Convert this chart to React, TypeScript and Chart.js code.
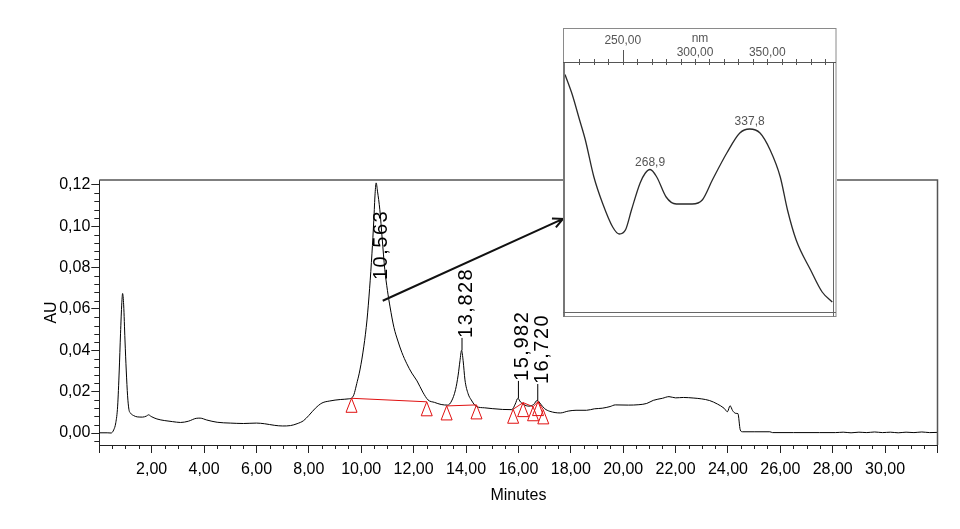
import React, { useEffect, useRef } from 'react';
import { Chart, registerables } from 'chart.js';

Chart.register(...registerables);

// ---- Chromatogram (main chart) ----
const traceTimes = [
  0, 0.3, 0.45, 0.55, 0.63, 0.7, 0.76, 0.81, 0.86, 0.89, 0.93, 0.98, 1.03, 1.08, 1.13, 1.2, 1.3, 1.45, 1.65, 1.8,
  1.88, 1.98, 2.2, 2.5, 2.8, 3.1, 3.4, 3.7, 3.85, 4.1, 4.5, 5.0, 5.5, 6.0, 6.3, 6.7, 7.0, 7.3, 7.55, 7.8,
  8.0, 8.25, 8.5, 8.8, 9.2, 9.5, 9.68, 9.85, 9.95, 10.1, 10.22, 10.32, 10.41, 10.48, 10.53, 10.57, 10.62, 10.71, 10.8, 10.9,
  11.0, 11.1, 11.25, 11.4, 11.55, 11.74, 11.93, 12.13, 12.35, 12.55, 12.8, 13.05, 13.3, 13.45, 13.6, 13.7, 13.77, 13.83, 13.89, 13.96,
  14.08, 14.2, 14.4, 14.7, 15.0, 15.4, 15.75, 15.88, 15.98, 16.08, 16.2, 16.4, 16.58, 16.72, 16.85, 17.0, 17.2, 17.6, 17.9, 18.2,
  18.6, 18.9, 19.2, 19.5, 19.7, 20.2, 20.6, 20.9, 21.15, 21.5, 21.75, 22.0, 22.3, 22.7, 23.0, 23.3, 23.6, 23.85, 23.98, 24.08,
  24.18, 24.3, 24.38, 24.47, 24.55, 25.0, 25.6, 25.7, 26.5, 27.5, 28.1, 28.4, 28.7, 29.0, 29.3, 29.6, 29.9, 30.2, 30.5, 30.8,
  31.1, 31.4, 31.7, 32.0,
];
const traceAU = [
  0.0001, 0.0001, 0.0, 0.0015, 0.005, 0.013, 0.03, 0.048, 0.063, 0.0675, 0.062, 0.045, 0.03, 0.018, 0.0115, 0.0095, 0.0085, 0.0078, 0.0077, 0.0082,
  0.0088, 0.008, 0.0068, 0.006, 0.0055, 0.0051, 0.0057, 0.0071, 0.0072, 0.0063, 0.0052, 0.0048, 0.0046, 0.0048, 0.0045, 0.0037, 0.0034, 0.0036, 0.0045, 0.006,
  0.0085, 0.012, 0.0145, 0.0155, 0.0162, 0.0165, 0.0175, 0.025, 0.0305, 0.042, 0.0547, 0.07, 0.087, 0.103, 0.116, 0.121, 0.117, 0.108, 0.094, 0.079,
  0.069, 0.061, 0.051, 0.0445, 0.039, 0.0335, 0.029, 0.0252, 0.0198, 0.016, 0.0148, 0.0138, 0.0135, 0.0155, 0.021, 0.028, 0.035, 0.04, 0.035, 0.0257,
  0.019, 0.016, 0.0128, 0.0122, 0.0118, 0.0114, 0.0113, 0.014, 0.0168, 0.015, 0.0138, 0.013, 0.0138, 0.0158, 0.014, 0.0118, 0.0105, 0.0097, 0.0106, 0.011,
  0.011, 0.0117, 0.012, 0.0128, 0.0136, 0.0135, 0.0137, 0.0143, 0.0158, 0.0168, 0.0176, 0.017, 0.0172, 0.0169, 0.0165, 0.0157, 0.014, 0.012, 0.0103, 0.0132,
  0.0108, 0.0095, 0.0094, 0.0015, 0.0006, 0.0006, 0.0006, 0.0002, 0.0002, 0.0002, 0.0002, 0.0004, 0.0001, 0.0004, 0.0002, 0.0005, 0.0002, 0.0004, 0.0001, 0.0004,
  0.0002, 0.0005, 0.0002, 0.0003,
];

const peakTimes = [10.563, 13.828, 15.982, 16.72];
const peakLabels = ['10,563', '13,828', '15,982', '16,720'];
const peakTopAU = [0.121, 0.04, 0.0168, 0.0158];
const labelStartAU = [0.074, 0.046, 0.0252, 0.0237];

const markerTimes = [9.63, 12.5, 13.26, 14.4, 15.8, 16.18, 16.56, 16.75, 16.95];
const markerAU = [0.0168, 0.0151, 0.0131, 0.0136, 0.0115, 0.0147, 0.0127, 0.0152, 0.0112];
const baselinePairs = [[0, 1], [2, 3], [4, 5], [5, 6], [6, 7], [7, 8]];

const arrowFrom = [10.82, 0.064];
const arrowTo = [17.7, 0.1036];

const xMin = 0, xMax = 32, xStep = 2;
const yMin = -0.0058, yMax = 0.1224, yStep = 0.02;

// ---- UV spectrum (inset) ----
const specNm = [
  210, 215, 220, 224, 230, 236, 243, 247.5, 252, 256, 262, 265.5, 268.9, 273.5, 280, 287, 298, 305, 312, 322,
  331, 337.8, 345, 352, 359, 364, 370, 380, 388, 395,
];
const specAbs = [
  95, 87, 77, 69, 54, 43.5, 34, 31.2, 33, 40.8, 51.6, 55.5, 57, 54, 46, 43.2, 43.2, 44.8, 52.8, 63.6,
  71.6, 73.2, 71.6, 64.8, 54, 40.8, 28.8, 16.8, 8, 4,
];
const specPeakNm = [268.9, 337.8];
const specPeakAbs = [57, 73.2];
const specPeakLabels = ['268,9', '337,8'];
const insetTickValues = [250, 300, 350];
const insetTickLabels = ['250,00', '300,00', '350,00'];
const insetTickRow = [0, 1, 1];
const insetUnit = 'nm';

const FONT = '"Liberation Sans", Arial, sans-serif';
const fmt = (v: number) => v.toFixed(2).replace('.', ',');

const mainDecor = {
  id: 'mainDecor',
  afterDatasetsDraw(chart: any) {
    const { ctx, scales } = chart;
    const x = scales.x, y = scales.y;
    ctx.save();
    // red baselines
    ctx.strokeStyle = '#e01010';
    ctx.lineWidth = 1;
    baselinePairs.forEach(([i, j]) => {
      ctx.beginPath();
      ctx.moveTo(x.getPixelForValue(markerTimes[i]), y.getPixelForValue(markerAU[i]));
      ctx.lineTo(x.getPixelForValue(markerTimes[j]), y.getPixelForValue(markerAU[j]));
      ctx.stroke();
    });
    // triangles (apex at the point)
    markerTimes.forEach((t, i) => {
      const px = x.getPixelForValue(t), py = y.getPixelForValue(markerAU[i]);
      ctx.beginPath();
      ctx.moveTo(px, py);
      ctx.lineTo(px - 5.5, py + 14);
      ctx.lineTo(px + 5.5, py + 14);
      ctx.closePath();
      ctx.stroke();
    });
    // peak labels
    ctx.fillStyle = '#000';
    ctx.strokeStyle = '#000';
    ctx.font = '20px ' + FONT;
    try { (ctx as any).letterSpacing = '1.5px'; } catch (e) {}
    peakTimes.forEach((t, i) => {
      const px = x.getPixelForValue(t);
      const pTop = y.getPixelForValue(peakTopAU[i]);
      const pLab = y.getPixelForValue(labelStartAU[i]);
      if (pTop > pLab) {
        ctx.beginPath();
        ctx.moveTo(px + 0.5, pTop);
        ctx.lineTo(px + 0.5, pLab);
        ctx.stroke();
      }
      ctx.save();
      ctx.translate(px + 5, pLab);
      ctx.rotate(-Math.PI / 2);
      ctx.textAlign = 'left';
      ctx.textBaseline = 'middle';
      ctx.fillText(peakLabels[i], 0, 0);
      ctx.restore();
    });
    try { (ctx as any).letterSpacing = '0px'; } catch (e) {}
    ctx.restore();
  },
  afterDraw(chart: any) {
    const { ctx, chartArea: a, scales } = chart;
    const x = scales.x, y = scales.y;
    ctx.save();
    // top & right frame
    ctx.strokeStyle = '#555';
    ctx.lineWidth = 1.5;
    ctx.beginPath();
    ctx.moveTo(a.left, a.top);
    ctx.lineTo(a.right, a.top);
    ctx.lineTo(a.right, a.bottom);
    ctx.stroke();
    // minor ticks
    ctx.strokeStyle = '#222';
    ctx.lineWidth = 1;
    for (let k = 1; k < 64; k++) {
      if (k % 4 === 0) continue;
      const px = Math.round(x.getPixelForValue(k * 0.5)) + 0.5;
      ctx.beginPath();
      ctx.moveTo(px, a.bottom);
      ctx.lineTo(px, a.bottom + 4);
      ctx.stroke();
    }
    for (let k = -1; k <= 30; k++) {
      if (k % 5 === 0) continue;
      const py = Math.round(y.getPixelForValue(k * 0.004)) + 0.5;
      ctx.beginPath();
      ctx.moveTo(a.left - 5, py);
      ctx.lineTo(a.left, py);
      ctx.stroke();
    }
    // arrow
    const x0 = x.getPixelForValue(arrowFrom[0]), y0 = y.getPixelForValue(arrowFrom[1]);
    const x1 = x.getPixelForValue(arrowTo[0]), y1 = y.getPixelForValue(arrowTo[1]);
    ctx.strokeStyle = '#111';
    ctx.lineWidth = 2;
    ctx.beginPath();
    ctx.moveTo(x0, y0);
    ctx.lineTo(x1, y1);
    const ang = Math.atan2(y1 - y0, x1 - x0);
    const L = 11, spread = 0.45;
    ctx.moveTo(x1 - L * Math.cos(ang - spread), y1 - L * Math.sin(ang - spread));
    ctx.lineTo(x1, y1);
    ctx.lineTo(x1 - L * Math.cos(ang + spread), y1 - L * Math.sin(ang + spread));
    ctx.stroke();
    ctx.restore();
  },
};

const insetDecor = {
  id: 'insetDecor',
  beforeDraw(chart: any) {
    const { ctx, width, height } = chart;
    ctx.save();
    ctx.fillStyle = '#fff';
    ctx.fillRect(0, 0, width, height);
    ctx.restore();
  },
  afterDraw(chart: any) {
    const { ctx, chartArea: a, scales, width, height } = chart;
    const x = scales.x, y = scales.y;
    ctx.save();
    // frames
    ctx.strokeStyle = '#8a8a8a';
    ctx.lineWidth = 1;
    ctx.strokeRect(0.5, 0.5, width - 1.5, height - 3);
    ctx.fillStyle = '#777';
    ctx.fillRect(0, a.top, 2, height - a.top - 2);
    ctx.strokeStyle = '#666';
    ctx.beginPath();
    ctx.moveTo(Math.round(a.right) + 0.5, a.top);
    ctx.lineTo(Math.round(a.right) + 0.5, height - 2.5);
    ctx.moveTo(0, Math.round(a.bottom) + 0.5);
    ctx.lineTo(width - 1, Math.round(a.bottom) + 0.5);
    ctx.stroke();
    // axis line
    ctx.strokeStyle = '#555';
    ctx.beginPath();
    ctx.moveTo(0, Math.round(a.top) + 0.5);
    ctx.lineTo(width - 1, Math.round(a.top) + 0.5);
    ctx.stroke();
    // ticks every 10 nm
    for (let nm = 220; nm <= 390; nm += 10) {
      const px = Math.round(x.getPixelForValue(nm)) + 0.5;
      ctx.beginPath();
      const long = nm === insetTickValues[0];
      ctx.moveTo(px, long ? a.top - 12 : a.top - 3);
      ctx.lineTo(px, a.top + 3);
      ctx.stroke();
    }
    // tick labels
    ctx.fillStyle = '#555';
    ctx.font = '12px ' + FONT;
    ctx.textAlign = 'center';
    ctx.textBaseline = 'middle';
    insetTickValues.forEach((v, i) => {
      const px = x.getPixelForValue(v);
      ctx.fillText(insetTickLabels[i], px, insetTickRow[i] === 0 ? a.top - 21 : a.top - 9);
    });
    ctx.fillText(insetUnit, x.getPixelForValue(insetTickValues[1]) + 5, a.top - 23);
    // peak labels
    ctx.textBaseline = 'bottom';
    specPeakNm.forEach((nm, i) => {
      ctx.fillText(specPeakLabels[i], x.getPixelForValue(nm), y.getPixelForValue(specPeakAbs[i]) - 1);
    });
    ctx.restore();
  },
};

export default function App() {
  const mainRef = useRef<HTMLCanvasElement>(null);
  const insetRef = useRef<HTMLCanvasElement>(null);

  useEffect(() => {
    const main = new Chart(mainRef.current as HTMLCanvasElement, {
      type: 'line',
      data: {
        datasets: [
          {
            data: traceTimes.map((t, i) => ({ x: t, y: traceAU[i] })),
            borderColor: '#000',
            borderWidth: 1,
            pointRadius: 0,
            cubicInterpolationMode: 'monotone',
            fill: false,
          },
        ],
      },
      options: {
        responsive: false,
        animation: false,
        devicePixelRatio: 1,
        layout: { padding: { left: 0, top: 180, right: 22.5, bottom: 24 } },
        plugins: { legend: { display: false }, tooltip: { enabled: false } },
        scales: {
          x: {
            type: 'linear',
            min: xMin,
            max: xMax,
            afterFit: (s: any) => { s.height = 60; },
            grid: { drawOnChartArea: false, tickLength: 8, color: '#222' },
            border: { display: true, color: '#222', width: 1 },
            ticks: {
              stepSize: xStep,
              padding: 7,
              maxRotation: 0,
              autoSkip: false,
              color: '#000',
              font: { family: FONT, size: 16 },
              callback: (v: any) => (v <= xMin || v >= xMax ? '' : fmt(Number(v))),
            },
            title: { display: true, text: 'Minutes', color: '#000', font: { family: FONT, size: 16 }, padding: { top: 0, bottom: 0 } },
          },
          y: {
            type: 'linear',
            min: yMin,
            max: yMax,
            afterFit: (s: any) => { s.width = 99.3; },
            grid: { drawOnChartArea: false, tickLength: 8, color: '#222' },
            border: { display: true, color: '#222', width: 1 },
            ticks: {
              stepSize: yStep,
              includeBounds: false,
              padding: 1,
              color: '#000',
              font: { family: FONT, size: 16 },
              callback: (v: any) => fmt(Number(v)),
            },
            title: { display: true, text: 'AU', color: '#000', font: { family: FONT, size: 16 }, padding: { top: 42.4, bottom: 0 } },
          },
        },
      },
      plugins: [mainDecor],
    } as any);

    const inset = new Chart(insetRef.current as HTMLCanvasElement, {
      type: 'line',
      data: {
        datasets: [
          {
            data: specNm.map((n, i) => ({ x: n, y: specAbs[i] })),
            borderColor: '#2a2a2a',
            borderWidth: 1.3,
            pointRadius: 0,
            cubicInterpolationMode: 'monotone',
            fill: false,
          },
        ],
      },
      options: {
        responsive: false,
        animation: false,
        devicePixelRatio: 1,
        layout: { padding: { left: 2, right: 4, top: 34, bottom: 7 } },
        plugins: { legend: { display: false }, tooltip: { enabled: false } },
        scales: {
          x: { type: 'linear', display: false, min: 210, max: 395.5 },
          y: { type: 'linear', display: false, min: 0, max: 100 },
        },
      },
      plugins: [insetDecor],
    } as any);

    return () => {
      main.destroy();
      inset.destroy();
    };
  }, []);

  return (
    <div style={{ position: 'absolute', left: 0, top: 0, width: 960, height: 529, background: '#fff' }}>
      <canvas ref={mainRef} width={960} height={529} style={{ position: 'absolute', left: 0, top: 0 }} />
      <canvas ref={insetRef} width={274} height={291} style={{ position: 'absolute', left: 563, top: 28 }} />
    </div>
  );
}
